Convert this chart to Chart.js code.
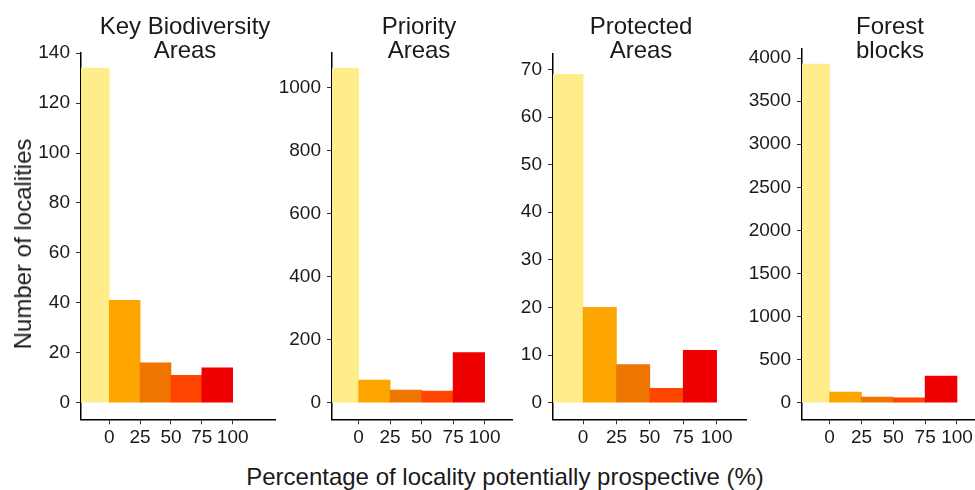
<!DOCTYPE html>
<html>
<head>
<meta charset="utf-8">
<script src="https://cdn.jsdelivr.net/npm/chart.js@4"></script>
<style>
  body { margin: 0; background: #fff; }
  #wrap { position: relative; width: 975px; height: 490px; overflow: hidden; font-family: "Liberation Sans", Arial, sans-serif; color: #1a1a1a; }
  #wrap canvas { position: absolute; top: 0; }
  .strip { position: absolute; top: 14px; width: 240px; margin-left: -120px; text-align: center; font-size: 24px; line-height: 24px; }
  #ytitle { position: absolute; left: 23px; top: 244px; font-size: 24px; white-space: nowrap; transform: translate(-50%, -50%) rotate(-90deg); }
  #xtitle { position: absolute; left: 505px; top: 463px; font-size: 24px; white-space: nowrap; transform: translateX(-50%); }
</style>
</head>
<body>
<div id="wrap">
  <canvas id="kba"></canvas>
  <canvas id="priority"></canvas>
  <canvas id="protected"></canvas>
  <canvas id="forest"></canvas>
  <div class="strip" style="left:185px">Key Biodiversity<br>Areas</div>
  <div class="strip" style="left:419px">Priority<br>Areas</div>
  <div class="strip" style="left:641px">Protected<br>Areas</div>
  <div class="strip" style="left:890px">Forest<br>blocks</div>
  <div id="ytitle">Number of localities</div>
  <div id="xtitle">Percentage of locality potentially prospective (%)</div>
</div>

<script>
// DATA
const binMids = [-12.5, 12.5, 37.5, 62.5, 87.5];
const binColors = ["#FFEC8B", "#FFA500", "#EE7600", "#FF4500", "#EE0000"];
const xTicks = [0, 25, 50, 75, 100];

const kbaCounts = [134, 41, 16, 11, 14];
const priorityCounts = [1063, 72, 40, 37, 159];
const protectedCounts = [69, 20, 8, 3, 11];
const forestCounts = [3930, 124, 66, 55, 310];

const kbaTicks = [0, 20, 40, 60, 80, 100, 120, 140];
const priorityTicks = [0, 200, 400, 600, 800, 1000];
const protectedTicks = [0, 10, 20, 30, 40, 50, 60, 70];
const forestTicks = [0, 500, 1000, 1500, 2000, 2500, 3000, 3500, 4000];

// layout
const AXIS_W = 70, AXIS_H = 30, PAD_R = 20, CANVAS_H = 460, PLOT_BOTTOM = 419.3;
const font = { family: "Liberation Sans", size: 19 };

function makePanel(id, counts, yTicks, box) {
  let cv = document.getElementById(id);
  let left = box.left - AXIS_W;
  cv.width = (box.right - box.left) + AXIS_W + PAD_R;
  cv.height = CANVAS_H;
  cv.style.left = left + "px";

  return new Chart(cv, {
    type: "bar",
    data: {
      datasets: [{
        data: binMids.map((x, i) => ({ x: x, y: counts[i] })),
        backgroundColor: binColors,
        borderWidth: 0,
        barPercentage: 1,
        categoryPercentage: 1
      }]
    },
    options: {
      responsive: false,
      animation: false,
      layout: { padding: { left: 0, top: box.top, right: PAD_R, bottom: CANVAS_H - PLOT_BOTTOM - AXIS_H } },
      plugins: { legend: { display: false }, tooltip: { enabled: false } },
      scales: {
        x: {
          type: "linear",
          offset: false,
          min: box.xMin, max: box.xMax,
          afterBuildTicks: s => { s.ticks = xTicks.map(v => ({ value: v })); },
          afterFit: s => { s.height = AXIS_H; },
          grid: { offset: false, drawOnChartArea: false, drawTicks: true, tickLength: 5, color: "#333" },
          border: { display: true, color: "#000", width: 1.5 },
          ticks: { color: "#1a1a1a", font: font, padding: 2, maxRotation: 0, autoSkip: false, callback: v => String(v) }
        },
        y: {
          min: box.yMin, max: box.yMax,
          afterBuildTicks: s => { s.ticks = yTicks.map(v => ({ value: v })); },
          afterFit: s => { s.width = AXIS_W; },
          grid: { drawOnChartArea: false, drawTicks: true, tickLength: 5, color: "#333" },
          border: { display: true, color: "#000", width: 1.5 },
          ticks: { color: "#1a1a1a", font: font, padding: 6, autoSkip: false, callback: v => String(v) }
        }
      }
    }
  });
}

makePanel("kba", kbaCounts, kbaTicks,
  { left: 81, right: 275, top: 52.7, xMin: -22.9, xMax: 134.3, yMin: -6.65, yMax: 140.2 });
makePanel("priority", priorityCounts, priorityTicks,
  { left: 332, right: 512, top: 52.3, xMin: -21.1, xMax: 121.7, yMin: -52.7, yMax: 1113 });
makePanel("protected", protectedCounts, protectedTicks,
  { left: 553, right: 746, top: 53.3, xMin: -22.5, xMax: 122, yMin: -3.5, yMax: 73.4 });
makePanel("forest", forestCounts, forestTicks,
  { left: 802, right: 985, top: 48.3, xMin: -21.7, xMax: 122, yMin: -193, yMax: 4113 });
</script>
</body>
</html>
